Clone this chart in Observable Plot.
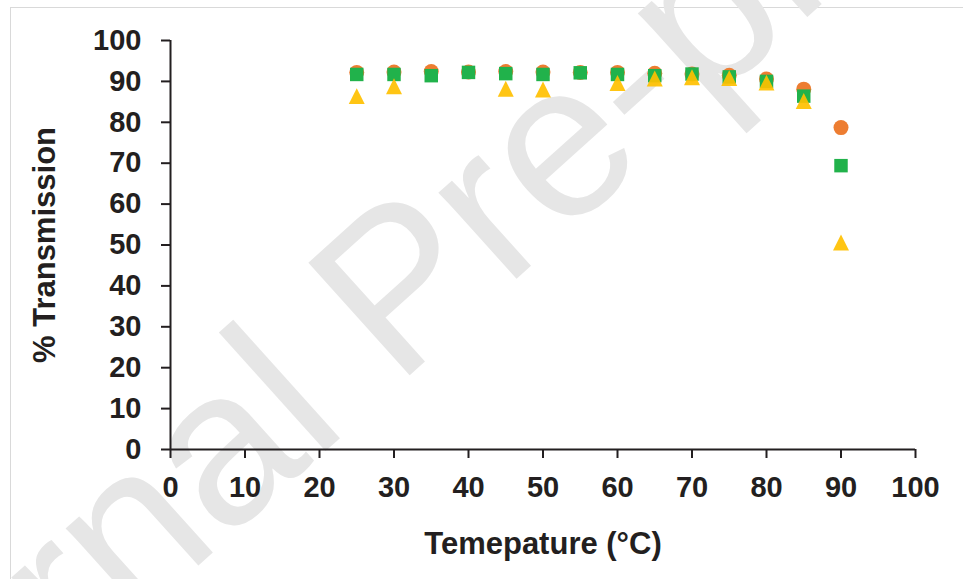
<!DOCTYPE html>
<html>
<head>
<meta charset="utf-8">
<script src="https://cdn.jsdelivr.net/npm/d3@7"></script>
<script src="https://cdn.jsdelivr.net/npm/@observablehq/plot@0.6"></script>
<style>
  html, body { margin: 0; padding: 0; background: #fff; }
  #wrap { position: relative; width: 963px; height: 579px; overflow: hidden; }
  #border { position: absolute; left: 10px; top: 7px; width: 1000px; height: 700px; border: 1.5px solid #d9d9d9; }
  #chart { position: absolute; left: 0; top: 0; }
</style>
</head>
<body>
<div id="wrap"><div id="border"></div><div id="chart"></div></div>
<script>
// Temperature (°C) at which each sample was measured
const temps = [25, 30, 35, 40, 45, 50, 55, 60, 65, 70, 75, 80, 85, 90];
// % transmission, sample 1 (orange circles)
const circleValues = [92.2, 92.3, 92.4, 92.3, 92.4, 92.3, 92.2, 92.2, 92.0, 91.8, 91.5, 90.6, 88.1, 78.7];
// % transmission, sample 2 (green squares)
const squareValues = [91.7, 91.7, 91.4, 92.2, 91.9, 91.7, 92.1, 91.7, 91.4, 91.8, 91.1, 90.0, 86.4, 69.4];
// sample 3 (yellow triangles) was measured at fewer temperatures
const triangleTemps = [25, 30, 45, 50, 60, 65, 70, 75, 80, 85, 90];
const triangleValues = [86.4, 88.8, 88.2, 88.0, 89.6, 90.7, 91.0, 90.8, 89.7, 85.2, 50.6];

const xTicks = [0, 10, 20, 30, 40, 50, 60, 70, 80, 90, 100];
const yTicks = [0, 10, 20, 30, 40, 50, 60, 70, 80, 90, 100];

const circles = temps.map((t, i) => ({t, v: circleValues[i]}));
const squares = temps.map((t, i) => ({t, v: squareValues[i]}));
const triangles = triangleTemps.map((t, i) => ({t, v: triangleValues[i]}));

// isosceles triangle centred on its bounding box, as high as it is wide
const boxTriangle = {
  draw(ctx, size) {
    const h = Math.sqrt(size) / 2;
    ctx.moveTo(0, -h);
    ctx.lineTo(h, h);
    ctx.lineTo(-h, h);
    ctx.closePath();
  }
};

const ink = "#231f20";
const font = "'Liberation Sans', Arial, sans-serif";

const chart = Plot.plot({
  width: 963,
  height: 579,
  marginLeft: 170,
  marginRight: 48,
  marginTop: 40,
  marginBottom: 130,
  style: {background: "transparent", fontFamily: font, fontWeight: "bold", fontSize: "29px", color: ink},
  x: {domain: [0, 100]},
  y: {domain: [0, 100]},
  marks: [
    Plot.text(["Journal Pre-proof"], {
      frameAnchor: "middle", dx: -144, dy: 45, rotate: -42,
      fontSize: 220, fontWeight: "normal", fill: "#e6e6e6", fontFamily: font
    }),
    Plot.axisX({ticks: xTicks, tickSize: 9, tickPadding: 18, strokeWidth: 2, label: null, tickFormat: d => d}),
    Plot.axisY({ticks: yTicks, tickSize: 9, tickPadding: 20, strokeWidth: 2, label: null, tickFormat: d => d}),
    Plot.ruleX([0], {stroke: ink, strokeWidth: 2}),
    Plot.ruleY([0], {stroke: ink, strokeWidth: 2}),
    Plot.dot(circles, {x: "t", y: "v", r: 7.5, symbol: "circle", fill: "#ed7d31", stroke: "none"}),
    Plot.dot(squares, {x: "t", y: "v", r: 7.6, symbol: "square", fill: "#21b24b", stroke: "none"}),
    Plot.dot(triangles, {x: "t", y: "v", r: 9, symbol: boxTriangle, fill: "#ffc000", fillOpacity: 0.92, stroke: "none"}),
    Plot.text(["% Transmission"], {frameAnchor: "left", dx: -125, rotate: -90, textAnchor: "middle", fontSize: 31, fill: ink}),
    Plot.text(["Temepature (°C)"], {frameAnchor: "bottom", dy: 104, fontSize: 31, fill: ink})
  ]
});
document.getElementById("chart").appendChild(chart);
</script>
</body>
</html>
